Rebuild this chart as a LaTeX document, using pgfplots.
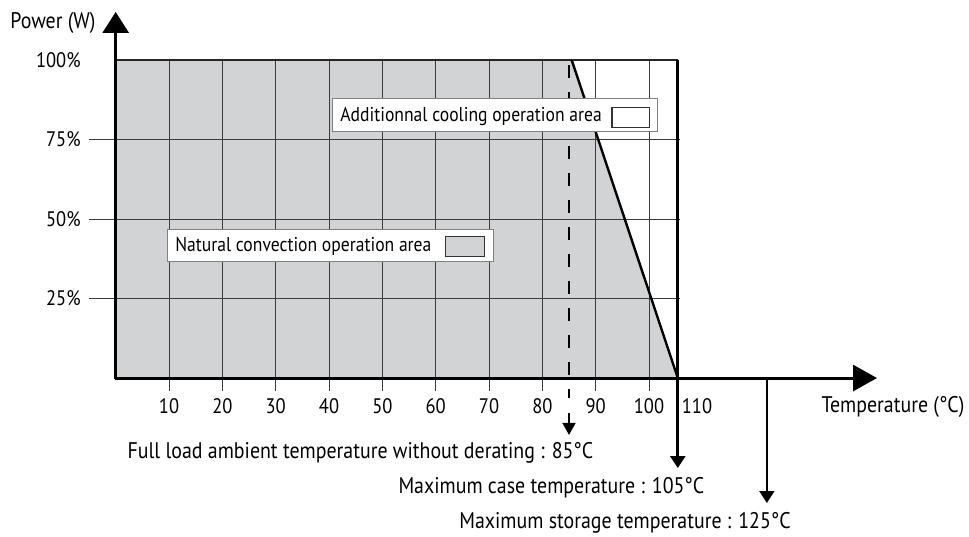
\documentclass[border=0pt]{standalone}
\usepackage{pgfplots}
\pgfplotsset{compat=1.18}
\usetikzlibrary{arrows.meta}
\usepackage{fontspec}
\setmainfont{PT Sans}[FakeStretch=0.88]
\definecolor{areagrey}{RGB}{209,211,212}
\definecolor{gridgrey}{RGB}{60,60,60}
\newcommand{\bigfont}{\fontsize{11.3pt}{13.5pt}\selectfont}
\newcommand{\legfont}{\fontsize{10pt}{12pt}\selectfont}
\begin{document}
\begin{tikzpicture}[font=\fontsize{10.5pt}{12.6pt}\selectfont]
\begin{axis}[
  width=380.65pt, height=159pt, scale only axis,
  xmin=0, xmax=142.75, ymin=0, ymax=100,
  axis lines=left,
  axis line style={draw=none},
  clip=false,
  tick align=outside,
  major tick length=6.5pt,
  xtick={10,20,30,40,50,60,70,80,90,100},
  xticklabels={10,20,30,40,50,60,70,80,90,100},
  ytick={25,50,75},
  yticklabels={25\%,50\%,75\%},
  extra x ticks={109}, extra x tick labels={110},
  extra y ticks={100}, extra y tick labels={100\%},
  extra tick style={major tick style={draw=none}},
  x tick style={gridgrey, line width=0.5pt},
  y tick style={draw=none},
  yticklabel style={xshift=-7.5pt},
]
% operation area
\addplot[draw=none, fill=areagrey] coordinates {(0,0) (0,100) (85.5,100) (105.4,0)} --cycle;
% grid
\pgfplotsinvokeforeach{10,20,30,40,50,60,70,80,90,100}{
  \addplot[gridgrey, line width=0.5pt] coordinates {(#1,0) (#1,100)};
}
\pgfplotsinvokeforeach{25,50,75}{
  \addplot[gridgrey, line width=0.5pt] coordinates {(-5.06,#1) (105.9,#1)};
}
% frame and derating
\addplot[black!85, line width=1pt] coordinates {(0,100) (105.4,100)};
\addplot[black, line width=1.2pt] coordinates {(85.5,100) (105.4,0)};
\addplot[black, line width=1.4pt, -{Triangle[width=7.5pt,length=6pt]}] coordinates {(105.4,100) (105.4,-28.3)};
\addplot[black, line width=0.9pt, -{Triangle[width=7.5pt,length=6pt]}] coordinates {(122.1,0) (122.1,-39.3)};
\addplot[black, line width=1pt, dash pattern=on 6.5pt off 7pt] coordinates {(85,98.4) (85,-6.3)};
\addplot[black, line width=0.9pt, -{Triangle[width=6.5pt,length=6pt]}] coordinates {(85,-11.0) (85,-17.9)};
% axes
\addplot[black, line width=1.5pt, -{Triangle[width=13pt,length=12pt]}] coordinates {(-0.14,0) (142.75,0)};
\addplot[black, line width=1.5pt, -{Triangle[width=13pt,length=10.5pt]}] coordinates {(0,-0.24) (0,115.1)};
% legend boxes
\draw[gray, line width=0.5pt, fill=white] (axis cs:9.81,36.79) rectangle (axis cs:70.93,46.86);
\draw[black!80, line width=0.5pt, fill=areagrey] (axis cs:61.93,38.36) rectangle (axis cs:69.24,44.65);
\node[anchor=west, inner sep=0pt, font=\legfont] at (axis cs:11.12,41.5) {Natural convection operation area};
\draw[gray, line width=0.5pt, fill=white] (axis cs:40.74,77.67) rectangle (axis cs:101.68,87.74);
\draw[black!80, line width=0.5pt, fill=white] (axis cs:93.06,78.93) rectangle (axis cs:100.18,85.22);
\node[anchor=west, inner sep=0pt, font=\legfont] at (axis cs:42.06,82.39) {Additionnal cooling operation area};
% labels
\node[inner sep=0pt, font=\bigfont] at (axis cs:-11.76,111.6) {Power (W)};
\node[inner sep=0pt, font=\bigfont] at (axis cs:145.75,-9.12) {Temperature (°C)};
\node[inner sep=0pt, font=\bigfont] at (axis cs:45.9,-23.6) {Full load ambient temperature without derating : 85°C};
\node[inner sep=0pt, font=\bigfont] at (axis cs:81.7,-34.6) {Maximum case temperature : 105°C};
\node[inner sep=0pt, font=\bigfont] at (axis cs:95.5,-45.6) {Maximum storage temperature : 125°C};
\coordinate (BL) at (axis cs:-21.69,-49.69);
\coordinate (TR) at (axis cs:160.0,118.87);
\end{axis}
\pgfresetboundingbox
\path[use as bounding box] (BL) rectangle (TR);
\end{tikzpicture}
\end{document}
